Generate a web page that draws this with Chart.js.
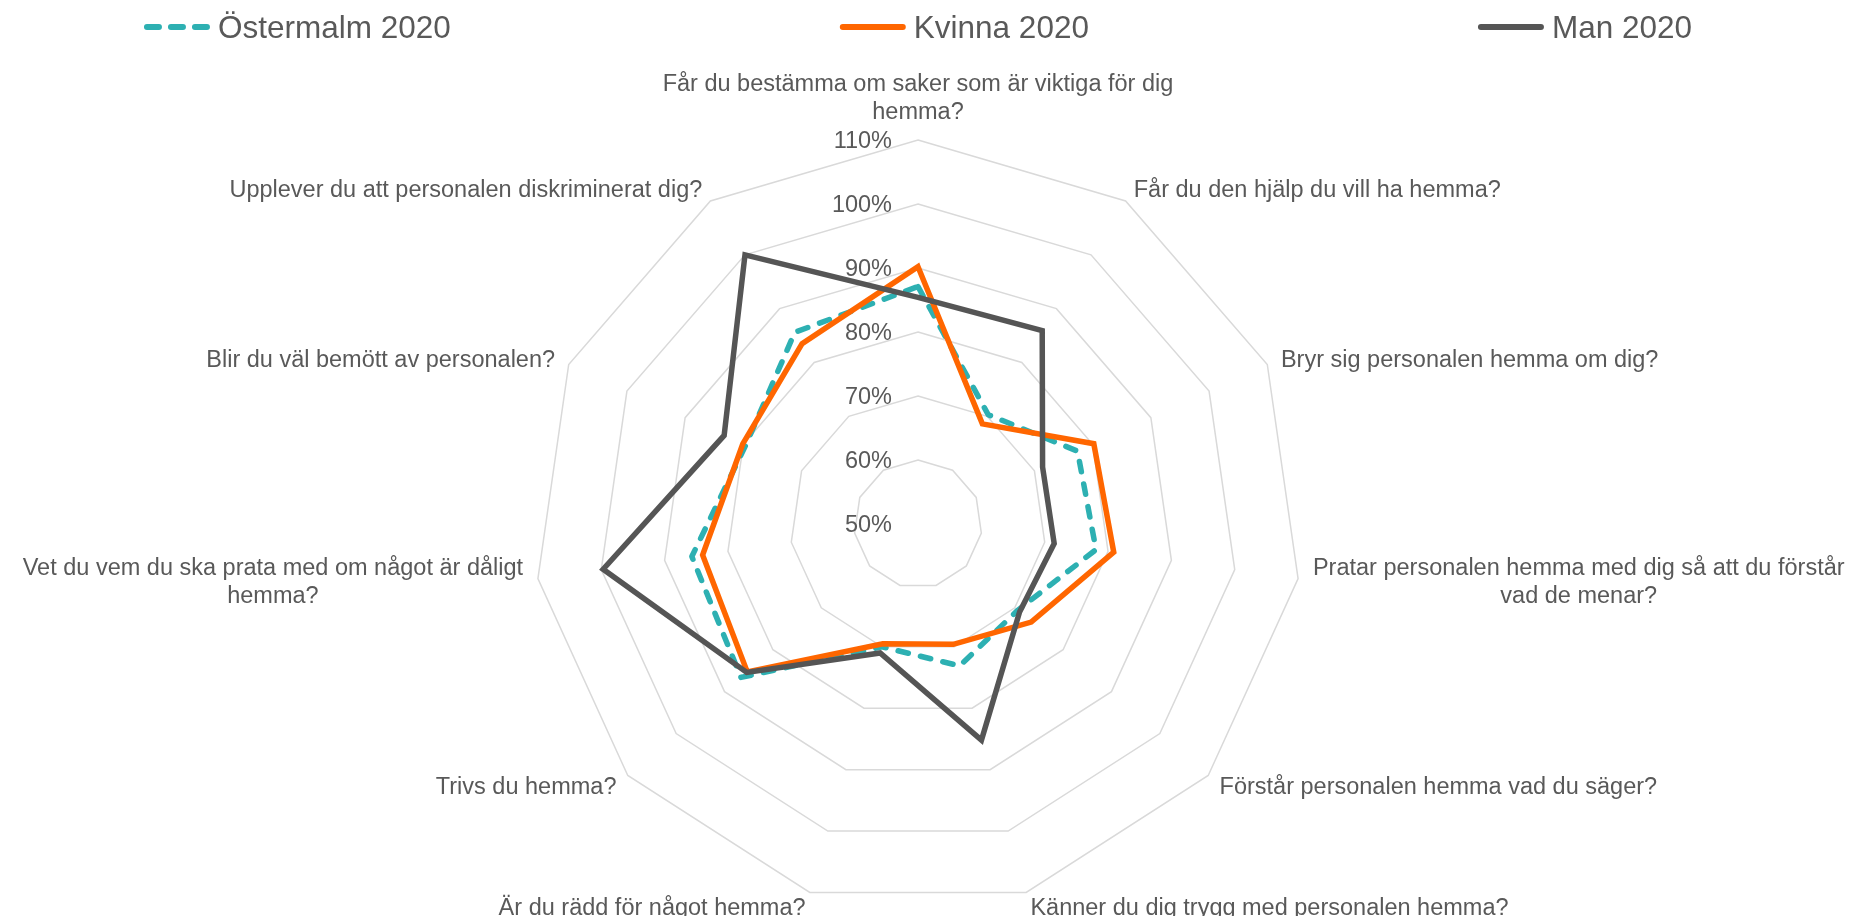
<!DOCTYPE html>
<html>
<head>
<meta charset="utf-8">
<script src="https://cdn.jsdelivr.net/npm/chart.js@4.4.1/dist/chart.umd.min.js"></script>
<style>
html,body{margin:0;padding:0;background:#fff;overflow:hidden}
#wrap{width:1860px;height:916px;position:relative}
</style>
</head>
<body>
<div id="wrap"><canvas id="c"></canvas></div>
<script>
const categories = [
  ["Får du bestämma om saker som är viktiga för dig", "hemma?"],
  "Får du den hjälp du vill ha hemma?",
  "Bryr sig personalen hemma om dig?",
  ["Pratar personalen hemma med dig så att du förstår", "vad de menar?"],
  "Förstår personalen hemma vad du säger?",
  "Känner du dig trygg med personalen hemma?",
  "Är du rädd för något hemma?",
  "Trivs du hemma?",
  ["Vet du vem du ska prata med om något är dåligt", "hemma?"],
  "Blir du väl bemött av personalen?",
  "Upplever du att personalen diskriminerat dig?"
];
const seriesNames = ["Östermalm 2020", "Kvinna 2020", "Man 2020"];
const ostermalm2020 = [87.1, 70.3, 77.4, 78.1, 70.6, 73.1, 70.0, 86.6, 85.7, 79.6, 85.6];
const kvinna2020    = [90.2, 68.6, 80.2, 80.9, 73.4, 69.6, 69.5, 85.3, 84.0, 80.1, 83.5];
const man2020       = [85.4, 85.9, 71.4, 71.5, 71.0, 85.2, 71.0, 85.4, 99.7, 83.3, 100.0];
const tickMin = 50, tickMax = 110, tickStep = 10;

const TEXT = '#595959';
const FONT = "'Liberation Sans', Arial, Helvetica, sans-serif";
const LABEL_SIZE = 23.5;
const LEGEND_SIZE = 31.5;
const TXT_DY = 2;

const excelLabels = {
  id: 'excelLabels',
  beforeDatasetsDraw(chart) {
    const s = chart.scales.r, ctx = chart.ctx;
    ctx.save();
    ctx.font = LABEL_SIZE + 'px ' + FONT;
    ctx.fillStyle = TEXT;
    ctx.textAlign = 'right';
    ctx.textBaseline = 'middle';
    s.ticks.forEach(t => {
      const p = s.getPointPosition(0, s.getDistanceFromCenterForValue(t.value));
      ctx.fillText(t.label, p.x - 26, p.y + TXT_DY);
    });
    ctx.restore();
  },
  afterDraw(chart) {
    const s = chart.scales.r, ctx = chart.ctx;
    ctx.save();
    ctx.font = LABEL_SIZE + 'px ' + FONT;
    ctx.fillStyle = TEXT;
    ctx.textAlign = 'center';
    ctx.textBaseline = 'middle';
    const lh = 28;
    chart.data.labels.forEach((lab, i) => {
      const lines = Array.isArray(lab) ? lab : [lab];
      const p = s.getPointPosition(i, s.drawingArea + 15);
      const w = Math.max(...lines.map(l => ctx.measureText(l).width));
      const dx = p.x - s.xCenter;
      let cx;
      if (Math.abs(dx) < 1) cx = p.x;
      else if (dx > 0) cx = p.x + w / 2;
      else cx = p.x - w / 2;
      const h = lines.length * lh;
      const top = (Math.abs(dx) < 1 && p.y < s.yCenter) ? p.y - h : p.y - h / 2;
      lines.forEach((l, k) => ctx.fillText(l, cx, top + lh / 2 + k * lh + TXT_DY));
    });
    ctx.font = LEGEND_SIZE + 'px ' + FONT;
    ctx.textAlign = 'left';
    const mark = 66, gapT = 8, gap = 389, y = 27;
    const dss = chart.data.datasets;
    const widths = dss.map(ds => mark + gapT + ctx.measureText(ds.label).width);
    const total = widths.reduce((a, b) => a + b, 0) + gap * (dss.length - 1);
    let x = s.xCenter - total / 2;
    dss.forEach((ds, i) => {
      ctx.beginPath();
      ctx.strokeStyle = ds.borderColor;
      ctx.lineWidth = 6;
      ctx.lineCap = 'round';
      ctx.setLineDash(ds.borderDash && ds.borderDash.length ? [12, 12] : []);
      ctx.moveTo(x + 3, y);
      ctx.lineTo(x + mark - 3, y);
      ctx.stroke();
      ctx.setLineDash([]);
      ctx.fillStyle = TEXT;
      ctx.fillText(ds.label, x + mark + gapT, y + TXT_DY);
      x += widths[i] + gap;
    });
    ctx.restore();
  }
};

Chart.defaults.font.family = FONT;
Chart.defaults.color = TEXT;

new Chart(document.getElementById('c'), {
  type: 'radar',
  data: {
    labels: categories,
    datasets: [
      { label: seriesNames[0], data: ostermalm2020, borderColor: '#2DB0B2', borderWidth: 5.5,
        borderDash: [10.5, 12.5], borderCapStyle: 'round', borderJoinStyle: 'round', fill: false, order: 3 },
      { label: seriesNames[1], data: kvinna2020, borderColor: '#FF6600', borderWidth: 5.5,
        borderJoinStyle: 'miter', fill: false, order: 2 },
      { label: seriesNames[2], data: man2020, borderColor: '#555555', borderWidth: 5.5,
        borderJoinStyle: 'miter', fill: false, order: 1 }
    ]
  },
  options: {
    responsive: true,
    maintainAspectRatio: false,
    animation: false,
    layout: { padding: { top: 140, bottom: 8, left: 0, right: 24 } },
    elements: { point: { radius: 0, hitRadius: 0, hoverRadius: 0 }, line: { tension: 0 } },
    plugins: { legend: { display: false }, title: { display: false }, tooltip: { enabled: false } },
    scales: {
      r: {
        min: tickMin, max: tickMax,
        ticks: { stepSize: tickStep, display: false, callback: v => v + '%' },
        pointLabels: { display: false },
        angleLines: { display: false },
        grid: { color: '#D9D9D9', lineWidth: 1.5 }
      }
    }
  },
  plugins: [excelLabels]
});
</script>
</body>
</html>
